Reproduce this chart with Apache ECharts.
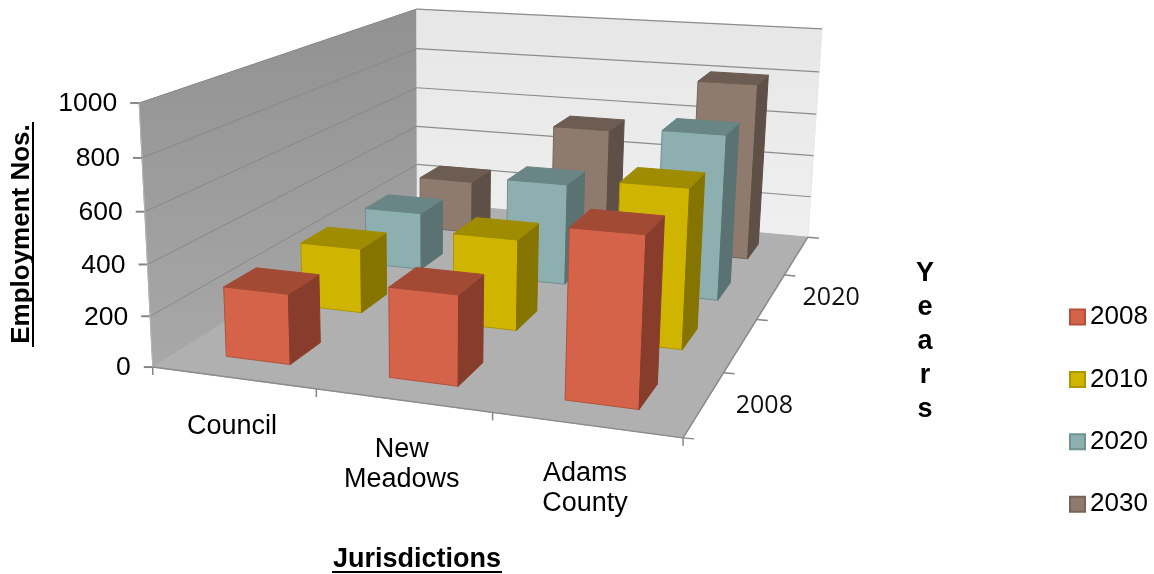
<!DOCTYPE html>
<html><head><meta charset="utf-8">
<style>html,body{margin:0;padding:0;background:#fff}#c{width:1154px;height:574px}</style>
<script src="https://cdn.jsdelivr.net/npm/echarts@6/dist/echarts.min.js"></script>
</head><body><div id="c"></div>
<script>
const jurisdictions = ['Council', 'New\nMeadows', 'Adams\nCounty'];
const years = ['2008', '2010', '2020', '2030'];
const values2008 = [277, 347, 632];
const values2010 = [272, 375, 640];
const values2020 = [258, 445, 710];
const values2030 = [250, 550, 805];
const valueTicks = [0, 200, 400, 600, 800, 1000];
const depthLabels = { 0: '2008', 2: '2020' };

const seriesValues = [values2008, values2010, values2020, values2030];
const palette = [
  { front: '#D4634A', top: '#A34A35', side: '#883C2B', edge: '#B5503A' },
  { front: '#CFB500', top: '#A08C00', side: '#857500', edge: '#AD9800' },
  { front: '#8DAFAF', top: '#698585', side: '#5A7272', edge: '#6F9292' },
  { front: '#8E7B6E', top: '#6C5C52', side: '#5E4F47', edge: '#75655A' }
];
const FONT = '"Liberation Sans", Arial, sans-serif';
const DEPTH = years.length, CATS = jurisdictions.length, VMAX = 1000;
const BAR = 0.4;

// Camera calibration: chart-box corners (category pos, depth pos, value) -> page position
const anchors = [
  [0, 0, 0, 153, 367], [3, 0, 0, 683, 438], [3, 4, 0, 808, 237], [0, 4, 0, 417, 202],
  [0, 0, 1000, 139, 103], [3, 4, 1000, 822, 29], [0, 4, 1000, 417, 9]
];
function solveCamera() {
  const A = [], b = [];
  anchors.forEach(([cx, dz, v, px, py]) => {
    const X = cx / CATS, Z = dz / DEPTH, Y = v / VMAX, u = px / 1000, w = py / 1000;
    A.push([X, Y, Z, 1, 0, 0, 0, 0, -u * X, -u * Y, -u * Z]); b.push(u);
    A.push([0, 0, 0, 0, X, Y, Z, 1, -w * X, -w * Y, -w * Z]); b.push(w);
  });
  const n = 11, M = [];
  for (let i = 0; i < n; i++) {
    M.push([]);
    for (let j = 0; j < n; j++) { let s = 0; A.forEach(r => s += r[i] * r[j]); M[i].push(s); }
    let s = 0; A.forEach((r, k) => s += r[i] * b[k]); M[i].push(s);
  }
  for (let i = 0; i < n; i++) {
    let p = i; for (let k = i + 1; k < n; k++) if (Math.abs(M[k][i]) > Math.abs(M[p][i])) p = k;
    [M[i], M[p]] = [M[p], M[i]];
    for (let k = 0; k < n; k++) if (k !== i) {
      const f = M[k][i] / M[i][i];
      for (let j = i; j <= n; j++) M[k][j] -= f * M[i][j];
    }
  }
  return M.map((r, i) => r[n] / r[i]);
}
const cam = solveCamera();
function camera(X, Y, Z) {
  const d = cam[8] * X + cam[9] * Y + cam[10] * Z + 1;
  return [1000 * (cam[0] * X + cam[1] * Y + cam[2] * Z + cam[3]) / d,
          1000 * (cam[4] * X + cam[5] * Y + cam[6] * Z + cam[7]) / d];
}
// catPos in category units measured from the left edge; depthPos in series units from the front
function projector(params, api) {
  const cs = params.coordSys, band = api.size([1, 0])[0];
  return (catPos, depthPos, value) => {
    const c = api.coord([0, value]);
    const X = (c[0] - band / 2 + catPos * band - cs.x) / cs.width;
    const Y = (cs.y + cs.height - c[1]) / cs.height;
    return camera(X, Y, depthPos / DEPTH);
  };
}
function poly(points, fill, stroke) {
  return { type: 'polygon', shape: { points }, style: { fill, stroke: stroke || fill, lineWidth: 1 }, silent: true };
}
function seg(a, b, stroke, w) {
  return { type: 'line', shape: { x1: a[0], y1: a[1], x2: b[0], y2: b[1] }, style: { stroke, lineWidth: w || 1 }, silent: true };
}
function txt(text, x, y, o) {
  return { type: 'text', silent: true, style: Object.assign({ text, x, y, fill: '#000', font: '25px ' + FONT, align: 'center', verticalAlign: 'middle' }, o) };
}
function renderFrame(params, api) {
  const P = projector(params, api), kids = [];
  const C = CATS, D = DEPTH;
  kids.push(poly([P(0, 0, 0), P(0, D, 0), P(0, D, VMAX), P(0, 0, VMAX)],
    { type: 'linear', x: 0, y: 0, x2: 0, y2: 1, colorStops: [{ offset: 0, color: '#919191' }, { offset: 1, color: '#A8A8A8' }] }, '#A0A0A0'));
  kids.push(poly([P(0, D, 0), P(C, D, 0), P(C, D, VMAX), P(0, D, VMAX)],
    { type: 'linear', x: 0, y: 0, x2: 0, y2: 1, colorStops: [{ offset: 0, color: '#E6E6E6' }, { offset: 1, color: '#EFEFEF' }] }, '#E8E8E8'));
  kids.push(poly([P(0, 0, 0), P(C, 0, 0), P(C, D, 0), P(0, D, 0)], '#B0B0B0'));
  valueTicks.forEach(v => {
    const a = P(0, 0, v), b = P(0, D, v), e = P(C, D, v);
    if (v > 0) kids.push(seg(a, b, '#888888', 1));
    if (v > 0) kids.push(seg(b, e, '#8C8C8C', 1.2));
    kids.push(seg(a, [a[0] - 9, a[1]], '#858585', 2));
    kids.push(txt(String(v), a[0] - 22, a[1] + 1, { align: 'right', font: '26.5px ' + FONT }));
  });
  kids.push(seg(P(0, 0, 0), P(C, 0, 0), '#8A8A8A', 1.5));
  kids.push(seg(P(C, 0, 0), P(C, D, 0), '#8A8A8A', 1.5));
  kids.push(seg(P(0, 0, 0), P(0, 0, VMAX), '#B5B5B5', 1));
  for (let i = 0; i <= C; i++) { const p = P(i, 0, 0); kids.push(seg(p, [p[0], p[1] + 8], '#858585', 1.5)); }
  for (let j = 0; j <= D; j++) { const p = P(C, j, 0); kids.push(seg(p, [p[0] + 11, p[1] + 1], '#858585', 1.5)); }
  jurisdictions.forEach((name, i) => {
    const p = P(i + 0.5, 0, 0);
    kids.push(txt(name, p[0] - 1, p[1] + 34, { verticalAlign: 'top', lineHeight: 30, font: '27px ' + FONT }));
  });
  Object.keys(depthLabels).forEach(j => {
    const p = P(C, +j + 0.5, 0);
    kids.push(txt(depthLabels[j], p[0] + 60, p[1] + 2, { font: '25px "Open Sans", sans-serif', fill: '#111' }));
  });
  return { type: 'group', children: kids };
}
function renderBars(j) {
  return function (params, api) {
    const P = projector(params, api), col = palette[j];
    const i = api.value(0), v = api.value(1);
    const l = i + 0.5 - BAR / 2, r = i + 0.5 + BAR / 2, f = j + 0.5 - BAR / 2, b = j + 0.5 + BAR / 2;
    return { type: 'group', children: [
      poly([P(l, f, 0), P(r, f, 0), P(r, f, v), P(l, f, v)], col.front, col.edge),
      poly([P(r, f, 0), P(r, b, 0), P(r, b, v), P(r, f, v)], col.side),
      poly([P(l, f, v), P(r, f, v), P(r, b, v), P(l, b, v)], col.top)
    ] };
  };
}
const series = [{
  type: 'custom', name: 'frame', z: 1, silent: true, renderItem: renderFrame,
  data: [[0, 0]], encode: { x: 0, y: 1 }
}];
years.forEach((y, j) => series.push({
  type: 'custom', name: y, z: 10 - j, silent: true, renderItem: renderBars(j),
  itemStyle: { color: palette[j].front, borderColor: palette[j].edge, borderWidth: 2 },
  data: seriesValues[j].map((v, i) => [i, v]), encode: { x: 0, y: 1 }
}));
const chart = echarts.init(document.getElementById('c'), null, { renderer: 'canvas' });
chart.setOption({
  animation: false, backgroundColor: '#fff',
  grid: { left: 153, top: 103, width: 530, height: 264 },
  xAxis: { type: 'category', data: jurisdictions, show: false },
  yAxis: { type: 'value', min: 0, max: VMAX, interval: 200, show: false },
  legend: {
    data: years, icon: 'rect', orient: 'vertical', left: 1064, top: 299, itemWidth: 15, itemHeight: 15, itemGap: 36.4,
    selectedMode: false, textStyle: { fontSize: 26, fontFamily: FONT, color: '#000', padding: [0, 0, 0, 0] }
  },
  series,
  graphic: [
    { type: 'text', x: 22, y: 234, rotation: Math.PI / 2, silent: true,
      style: { text: 'Employment Nos.', font: 'bold 26px ' + FONT, fill: '#000', align: 'center', verticalAlign: 'middle' } },
    { type: 'line', silent: true, shape: { x1: 33, y1: 122, x2: 33, y2: 347 }, style: { stroke: '#000', lineWidth: 2 } },
    { type: 'text', x: 417, y: 560, silent: true,
      style: { text: 'Jurisdictions', font: 'bold 27px ' + FONT, fill: '#000', align: 'center', verticalAlign: 'middle' } },
    { type: 'line', silent: true, shape: { x1: 332, y1: 572, x2: 502, y2: 572 }, style: { stroke: '#000', lineWidth: 2 } },
    { type: 'text', x: 925, y: 257, silent: true,
      style: { text: 'Y\ne\na\nr\ns', font: 'bold 27px ' + FONT, lineHeight: 34, fill: '#000', align: 'center', verticalAlign: 'top' } }
  ]
});
</script></body></html>
